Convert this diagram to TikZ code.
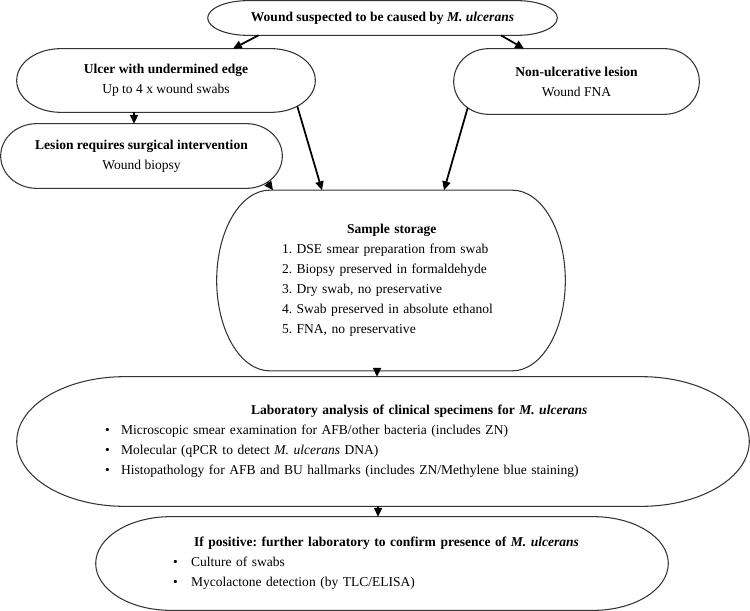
\documentclass[tikz,border=0pt]{standalone}
\usepackage{fontspec}
\setmainfont{Liberation Serif}
\usepackage{tikz}
\usetikzlibrary{calc,arrows.meta}
\colorlet{edgeGray}{black!80}
% outline with elliptical ends round a named node, #2 = end radius in cm
\newcommand{\pillbox}[2]{%
  \draw[edgeGray, line width=0.6pt] let \p1=(#1.north), \p2=(#1.south) in
    ([xshift=#2cm]#1.north west) -- ([xshift=-#2cm]#1.north east)
    arc[start angle=90, end angle=-90, x radius=#2cm, y radius={(\y1-\y2)/2}]
    -- ([xshift=#2cm]#1.south west)
    arc[start angle=270, end angle=90, x radius=#2cm, y radius={(\y1-\y2)/2}] -- cycle;}

\begin{document}
\begin{tikzpicture}[x=0.02cm, y=-0.02cm,
    every node/.style={font=\fontsize{7.7}{11.4}\selectfont\frenchspacing, inner sep=0pt},
    pill/.style={draw=none, align=center},
    flow/.style={-{Triangle[length=5pt,width=4.6pt]}, line width=1pt}]
    \useasboundingbox (0,0) rectangle (750,611);
    \node[pill, minimum width=6.98cm, minimum height=0.68cm] (wound) at (382.5,18) {\textbf{Wound suspected to be caused by \textit{M. ulcerans}}};
    \node[pill, minimum width=5.96cm, minimum height=1.26cm] (ulcer) at (166,80.5) {\textbf{Ulcer with undermined edge}\\Up to 4 x wound swabs};
    \node[pill, minimum width=4.9cm, minimum height=1.3cm] (nonulc) at (576.5,81.5) {\textbf{Non-ulcerative lesion}\\Wound FNA};
    \node[pill, minimum width=5.62cm, minimum height=1.28cm] (lesion) at (141.5,156) {\textbf{Lesion requires surgical intervention}\\Wound biopsy};
    \node[pill, align=left, text width=4.36cm, minimum width=6.96cm, minimum height=3.6cm] (storage) at (391,280.5) {\hspace*{1.3cm}\textbf{Sample storage}\\1. DSE smear preparation from swab\\2. Biopsy preserved in formaldehyde\\3. Dry swab, no preservative\\4. Swab preserved in absolute ethanol\\5. FNA, no preservative};
    \node[pill, align=left, text width=11.12cm, minimum width=14.64cm, minimum height=2.58cm] (labtest) at (383,441.5) {\hspace*{2.92cm}\textbf{Laboratory analysis of clinical specimens for \textit{M. ulcerans}}\\\makebox[0.32cm][l]{\textbullet}Microscopic smear examination for AFB/other bacteria (includes ZN)\\\makebox[0.32cm][l]{\textbullet}Molecular (qPCR to detect \textit{M. ulcerans} DNA)\\\makebox[0.32cm][l]{\textbullet}Histopathology for AFB and BU hallmarks (includes ZN/Methylene blue staining)};
    \node[pill, align=left, text width=8.36cm, minimum width=11.44cm, minimum height=1.86cm] (confirm) at (382,563.5) {\hspace*{0.42cm}\textbf{If positive: further laboratory to confirm presence of \textit{M. ulcerans}}\\\makebox[0.36cm][l]{\textbullet}Culture of swabs\\\makebox[0.36cm][l]{\textbullet}Mycolactone detection (by TLC/ELISA)};

    \pillbox{wound}{0.8}
    \pillbox{ulcer}{0.88}
    \pillbox{nonulc}{0.7}
    \pillbox{lesion}{0.72}
    \pillbox{storage}{1.06}
    \pillbox{labtest}{2.16}
    \pillbox{confirm}{1.5}

    \draw[flow] ($(wound.south)+(-124,0)$) -- ($(ulcer.north)+(67,0)$);
    \draw[flow] ($(wound.south)+(118.5,0)$) -- ($(nonulc.north)+(-52.5,0)$);
    \draw[flow] ($(ulcer.south)+(-32,0)$) -- ($(lesion.north)+(-7.5,0)$);
    \draw[flow] ($(ulcer.south east)+(-18,-6)$) -- ($(storage.north)+(-69,0)$);
    \draw[flow] ($(lesion.south east)+(-15,-6)$) -- ($(storage.north)+(-118,0)$);
    \draw[flow] ($(nonulc.south west)+(14,-6.5)$) -- ($(storage.north)+(53,0)$);
    \draw[flow] ($(storage.south)+(-14,0)$) -- ($(labtest.north)+(-6,0)$);
    \draw[flow] ($(labtest.south)+(-5,0)$) -- ($(confirm.north)+(-4,0)$);
\end{tikzpicture}
\end{document}
